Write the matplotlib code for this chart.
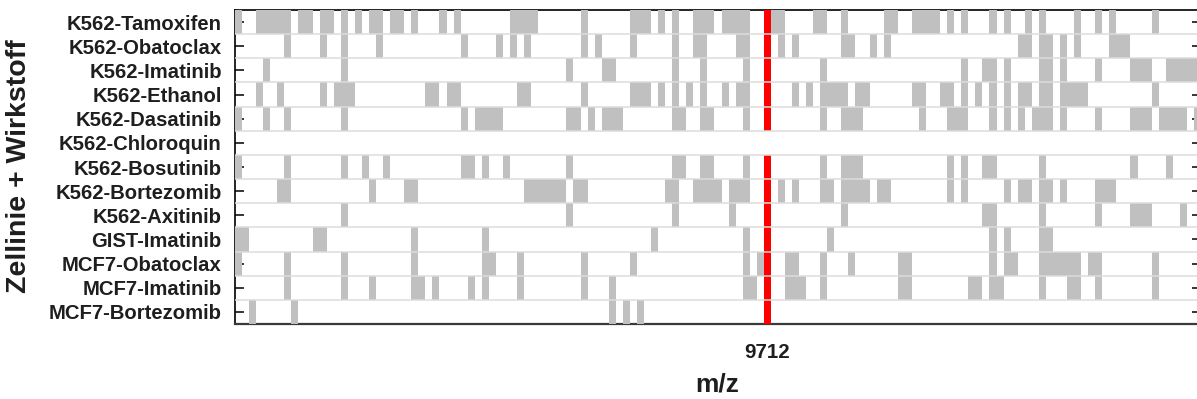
import matplotlib
matplotlib.use("Agg")
import matplotlib.pyplot as plt
import numpy as np
from matplotlib.colors import ListedColormap

# Cell line + compound combinations (top to bottom)
samples = [
    "K562-Tamoxifen", "K562-Obatoclax", "K562-Imatinib", "K562-Ethanol",
    "K562-Dasatinib", "K562-Chloroquin", "K562-Bosutinib", "K562-Bortezomib",
    "K562-Axitinib", "GIST-Imatinib", "MCF7-Obatoclax", "MCF7-Imatinib",
    "MCF7-Bortezomib",
]

# Number of m/z bins along the x axis and the highlighted bin
n_bins = 137
highlight_bin = 75
highlight_label = "9712"

# Bins in which a peak was detected, per sample
k562_tamoxifen = [0, 3, 4, 5, 6, 7, 9, 10, 12, 13, 15, 17, 19, 20, 22, 23, 25, 29, 31,
                  39, 40, 41, 42, 49, 56, 57, 58, 60, 62, 65, 66, 67, 69, 70, 71, 72,
                  75, 76, 77, 82, 83, 86, 92, 93, 96, 97, 98, 99, 101, 103, 107, 109,
                  112, 114, 119, 122, 124, 130]
k562_obatoclax = [7, 12, 15, 20, 32, 37, 39, 41, 49, 51, 56, 62, 65, 66, 71, 72, 75, 77,
                  79, 86, 87, 90, 92, 111, 112, 114, 115, 117, 119, 124, 125, 126]
k562_imatinib = [4, 15, 47, 52, 53, 62, 66, 72, 75, 83, 103, 106, 107, 109, 114, 115,
                 117, 122, 127, 128, 129, 132, 133, 134, 135, 136]
k562_ethanol = [3, 6, 12, 14, 15, 16, 27, 28, 30, 31, 40, 41, 49, 56, 57, 58, 60, 62,
                64, 66, 69, 71, 72, 75, 79, 81, 83, 84, 85, 86, 88, 89, 96, 97, 100,
                101, 103, 105, 107, 109, 111, 112, 114, 115, 117, 118, 119, 120, 130]
k562_dasatinib = [0, 4, 7, 15, 32, 34, 35, 36, 37, 47, 48, 50, 52, 53, 54, 62, 63, 66,
                  67, 72, 75, 83, 86, 87, 88, 97, 101, 102, 103, 107, 109, 111, 113,
                  114, 115, 117, 122, 127, 128, 129, 131, 132, 133, 134, 136]
k562_chloroquin = []
k562_bosutinib = [0, 7, 15, 18, 21, 32, 33, 35, 38, 47, 62, 63, 66, 67, 72, 75, 83, 86,
                  87, 88, 101, 103, 106, 107, 114, 127, 132]
k562_bortezomib = [6, 7, 19, 24, 25, 41, 42, 43, 44, 45, 46, 48, 49, 61, 62, 65, 66, 67,
                   68, 70, 71, 72, 75, 77, 79, 83, 84, 86, 87, 88, 89, 91, 92, 101, 103,
                   109, 111, 112, 114, 115, 117, 122, 123, 124]
k562_axitinib = [15, 47, 62, 70, 75, 86, 106, 107, 114, 122, 127, 128, 129, 134]
gist_imatinib = [0, 1, 11, 12, 25, 35, 59, 72, 75, 84, 107, 109, 114, 115]
mcf7_obatoclax = [0, 7, 15, 25, 35, 36, 40, 49, 56, 72, 74, 75, 78, 79, 83, 87, 94, 95,
                  107, 109, 110, 114, 115, 116, 117, 118, 119, 121, 122, 130]
mcf7_imatinib = [7, 15, 19, 25, 26, 28, 33, 35, 40, 49, 53, 72, 73, 75, 78, 79, 80, 83,
                 94, 95, 104, 105, 107, 108, 114, 118, 119, 122, 130]
mcf7_bortezomib = [2, 8, 53, 55, 57, 75]

peak_lists = [k562_tamoxifen, k562_obatoclax, k562_imatinib, k562_ethanol,
              k562_dasatinib, k562_chloroquin, k562_bosutinib, k562_bortezomib,
              k562_axitinib, gist_imatinib, mcf7_obatoclax, mcf7_imatinib,
              mcf7_bortezomib]

# 0 = no peak, 1 = peak, 2 = peak in the highlighted bin
grid = np.zeros((len(samples), n_bins))
for i, bins in enumerate(peak_lists):
    grid[i, bins] = 1
    if highlight_bin in bins:
        grid[i, highlight_bin] = 2

plt.rcParams["font.family"] = ["Liberation Sans", "DejaVu Sans"]
text_color = "#1e1e1e"

W, H = 1197, 399
fig = plt.figure(figsize=(W / 100, H / 100), dpi=100)
ax = fig.add_axes([235 / W, (H - 324) / H, 966 / W, 314 / H])
ax.set_facecolor("white")

cmap = ListedColormap([(1, 1, 1, 0), "#c0c0c0", "#ff0000"])
ax.pcolormesh(np.arange(n_bins + 1), np.arange(len(samples) + 1), grid,
              cmap=cmap, vmin=-0.5, vmax=2.5, zorder=1)
ax.set_xlim(0, n_bins)
ax.set_ylim(len(samples), 0)

# thin separators between sample rows
for k in range(1, len(samples)):
    ax.axhline(k, color="#dcdcdc", lw=1.1, zorder=2)

ax.set_axisbelow(True)
for side, sp in ax.spines.items():
    sp.set_zorder(0.5)
    sp.set_color("black")
    sp.set_linewidth(1.2)
ax.spines["bottom"].set_color("#3a3a3a")
ax.spines["bottom"].set_linewidth(1.6)

ax.set_yticks(np.arange(len(samples)) + 0.5)
ax.set_yticklabels(samples, fontsize=14.6, fontweight="bold", color=text_color)
ax.tick_params(axis="y", direction="in", length=6.5, width=1.1, left=True,
               right=True, pad=9.5, colors="black", labelcolor=text_color)

ax.set_xticks([highlight_bin + 0.5])
ax.set_xticklabels([highlight_label], fontsize=14.8, fontweight="bold", color=text_color)
ax.tick_params(axis="x", length=0, pad=14)

fig.text(19 / W, 1 - 166 / H, "Zellinie + Wirkstoff", rotation=90, ha="center",
         va="center", fontsize=20.5, fontweight="bold", color=text_color)
fig.text(717 / W, 1 - 384 / H, "m/z", ha="center", va="center", fontsize=19,
         fontweight="bold", color=text_color)

fig.savefig("out.png", dpi=100, facecolor="white")
